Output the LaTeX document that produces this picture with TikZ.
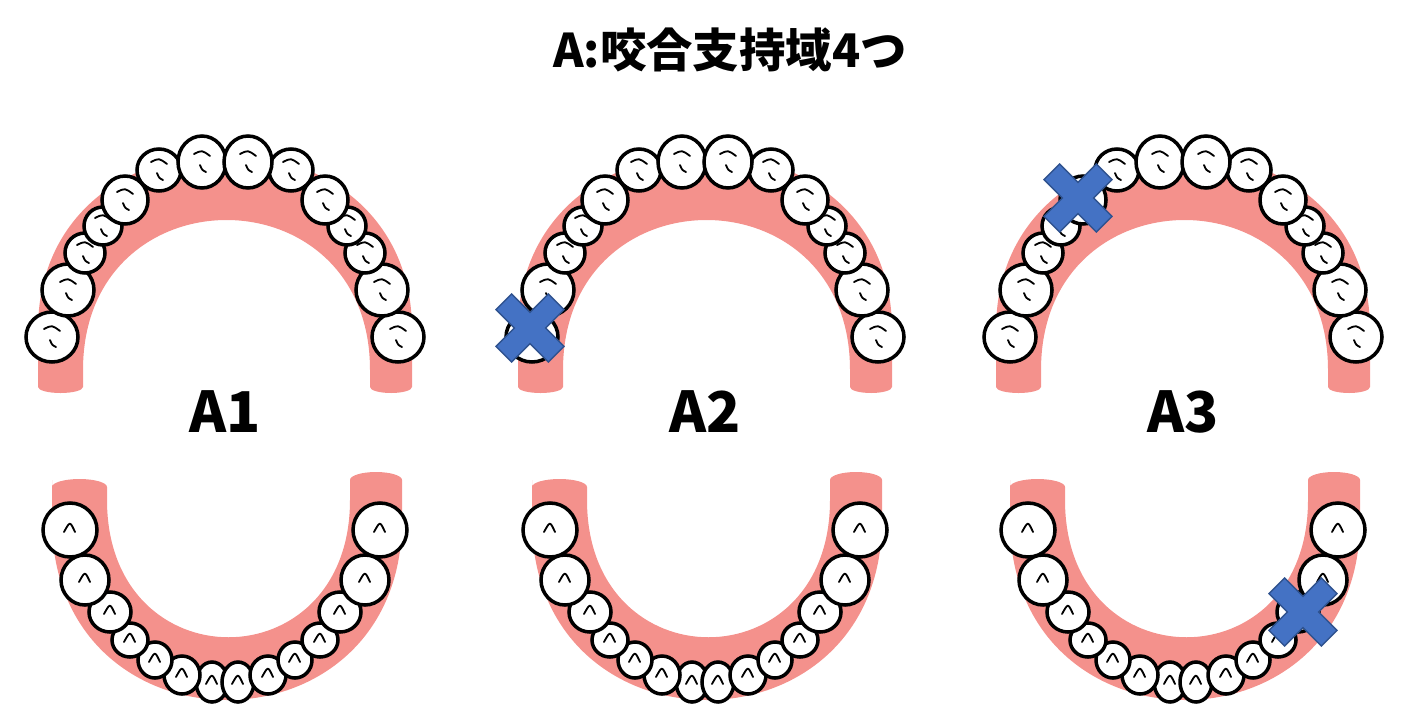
\documentclass[tikz,border=0pt]{standalone}
\usepackage{fontspec}
\setmainfont{Noto Sans CJK JP}
\begin{document}
\begin{tikzpicture}[x=0.05cm, y=-0.05cm,
    gum/.style = {fill=gumred, draw=none},
    tooth/.style = {fill=white, draw=black, line width=5pt},
    groove/.style = {draw=black, line width=2.6pt, line cap=round},
    cross/.style = {fill=crossblue, draw=crossedge, line width=2pt},
    label/.style = {font=\bfseries\fontsize{80}{80}\selectfont},
    title/.style = {font=\bfseries\fontsize{66}{66}\selectfont}
  ]
  \definecolor{gumred}{HTML}{F4918C}
  \definecolor{crossblue}{HTML}{4472C4}
  \definecolor{crossedge}{HTML}{2F528F}
  \useasboundingbox (0,0) rectangle (1402,716);
  % title
  \node[title] (title) at (730,50) {A:咬合支持域4つ};
  % three pairs of arches
  \foreach \c/\name in {225/A1, 705/A2, 1183/A3} {
    \begin{scope}[xshift=(\c-225)*0.05cm]
      % upper gum
      \path[gum] (38,387) -- (38,330) .. controls (38,95) and (412,95) .. (412,330)
        -- (412,387) arc[start angle=0, end angle=180, x radius=21, y radius=6]
        -- (370,370) .. controls (370,170) and (83,170) .. (83,370)
        -- (83,387) arc[start angle=0, end angle=180, x radius=22.5, y radius=6] -- cycle;
      % upper teeth
      \foreach \dx/\y/\a/\b in {173/337/26/25, 157/290/26/26, 140/253/20/20, 122/226/19/19,
          100/200/23/24, 66/170/22/21, 23/162/24/26} {
        \foreach \s in {-1,1} {
          \draw[tooth] (225+\s*\dx,\y) ellipse[x radius=\a, y radius=\b];
          \draw[groove] (225+\s*\dx-8,\y-8) .. controls (225+\s*\dx,\y-12) .. (225+\s*\dx+8,\y-6);
          \draw[groove] (225+\s*\dx-2,\y+3) .. controls (225+\s*\dx,\y+8) .. (225+\s*\dx+4,\y+10);
        }
      }
      % lower gum
      \path[gum] (52,480) -- (52,520) .. controls (52,760) and (402,760) .. (402,520)
        -- (402,480) arc[start angle=0, end angle=180, x radius=26, y radius=-8]
        -- (350,500) .. controls (350,683) and (107,683) .. (107,500)
        -- (107,487) arc[start angle=0, end angle=180, x radius=27.5, y radius=-8] -- cycle;
      % lower teeth
      \foreach \dx/\y/\a/\b in {13/682/16/20, 43/675/18/19, 70/660/17/18, 95/640/18/17,
          115/612/21/20, 140/580/24/25, 155/530/27/27} {
        \foreach \s in {-1,1} {
          \draw[tooth] (225+\s*\dx,\y) ellipse[x radius=\a, y radius=\b];
          \draw[groove] (225+\s*\dx-6,\y+2) .. controls (225+\s*\dx,\y-9) .. (225+\s*\dx+5,\y+2);
        }
      }
      \node[label] (\name) at (225,412) {\name};
    \end{scope}
  }
  % lost support marks
  \foreach \x/\y [count=\i] in {530/328, 1078/198, 1303/612} {
    \draw[cross, rotate around={45:(\x,\y)}]
      (\x+11,\y+37) -- (\x+11,\y+11) -- (\x+37,\y+11) -- (\x+37,\y-11) -- (\x+11,\y-11)
      -- (\x+11,\y-37) -- (\x-11,\y-37) -- (\x-11,\y-11) -- (\x-37,\y-11) -- (\x-37,\y+11)
      -- (\x-11,\y+11) -- (\x-11,\y+37) -- cycle;
  }
\end{tikzpicture}
\end{document}
